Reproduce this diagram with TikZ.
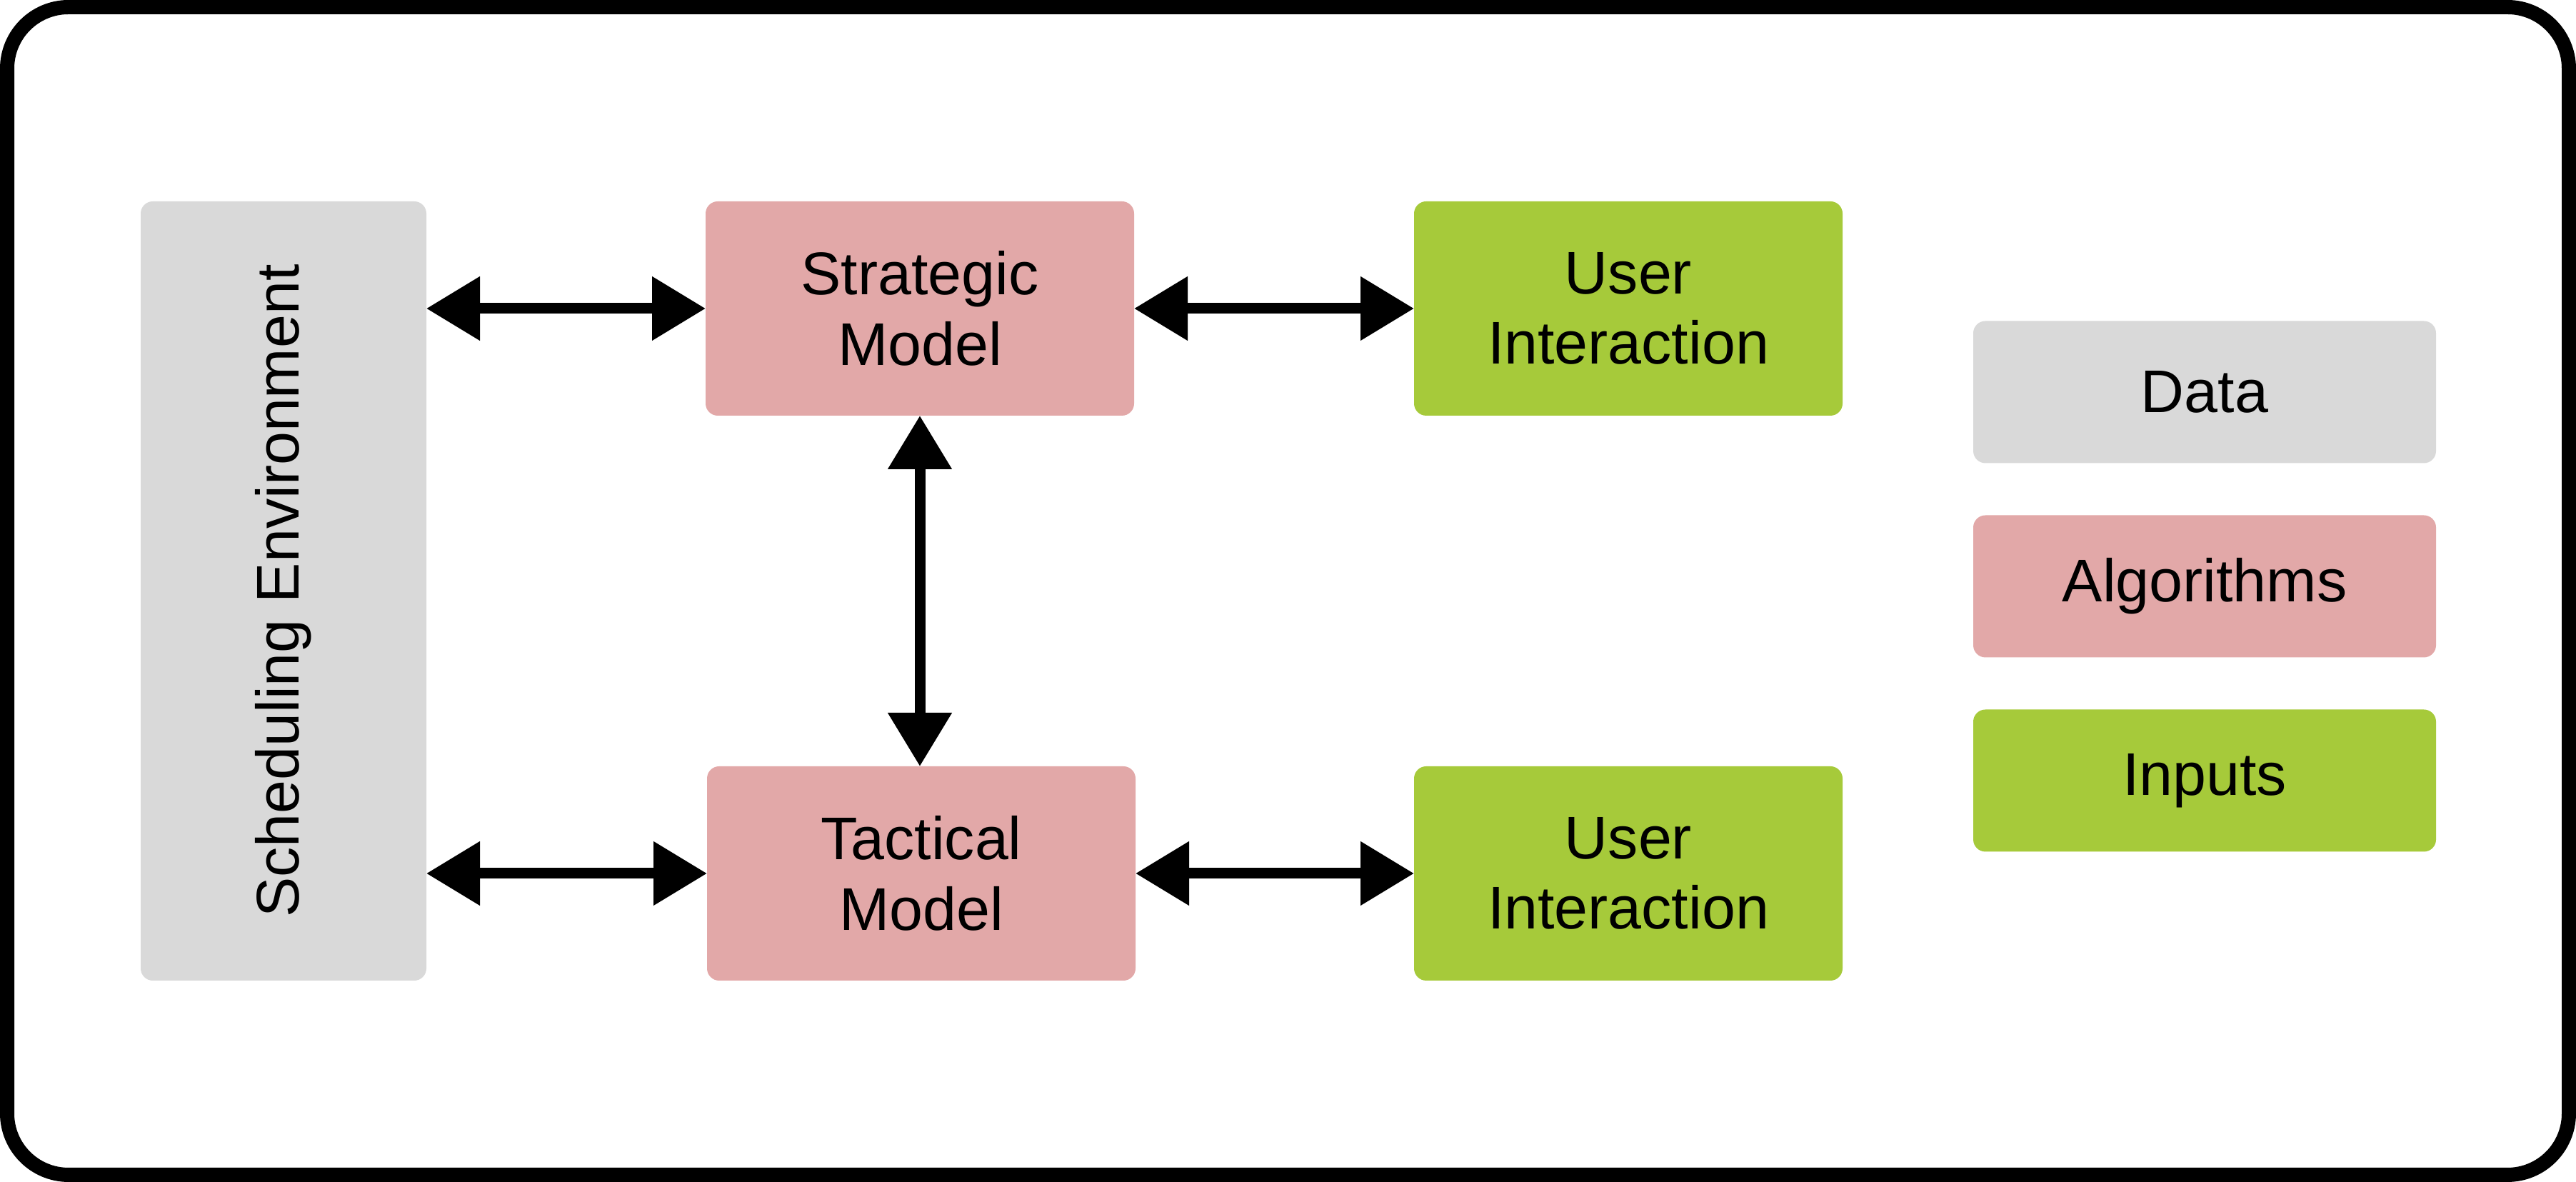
\documentclass[tikz,border=0pt]{standalone}
\usepackage{fontspec}
\setmainfont{Liberation Sans}
\usepackage{tikz}
\usetikzlibrary{positioning, arrows.meta}

\definecolor{datagray}{HTML}{D9D9D9}
\definecolor{algopink}{HTML}{E2A8A8}
\definecolor{inputgreen}{HTML}{A6CA3A}

\tikzset{
  block/.style={rounded corners=0.17cm, inner sep=0, outer sep=0, align=center,
    font=\fontsize{24}{28}\selectfont},
  modelbox/.style={block, fill=algopink, minimum width=6cm, minimum height=3cm},
  userbox/.style={block, fill=inputgreen, minimum width=6cm, minimum height=3cm},
  keybox/.style={block, minimum width=6.48cm, minimum height=1.99cm},
  link/.style={{Triangle[length=0.75cm,width=0.86cm]}-{Triangle[length=0.75cm,width=0.86cm]},
    line width=0.15cm}
}

\begin{document}
\begin{tikzpicture}
\useasboundingbox (0,0) rectangle (36.07,16.55);
\draw[line width=0.2cm, rounded corners=0.86cm] (0.1,0.1) rectangle (35.97,16.45);

% environment and models
\node[block, fill=datagray, minimum width=4cm, minimum height=10.91cm] (env) at (3.97,8.275) {\rotatebox{90}{Scheduling Environment}};
\node[modelbox] (strat) at (12.88,12.23) {Strategic\\Model};
\node[modelbox] (tact) at (12.90,4.32) {Tactical\\Model};
\node[userbox] (user1) at (22.80,12.23) {User\\Interaction};
\node[userbox] (user2) at (22.80,4.32) {User\\Interaction};

% legend
\node[keybox, fill=datagray] (data) at (30.87,11.06) {Data};
\node[keybox, fill=algopink, below=0.73cm of data] (algo) {Algorithms};
\node[keybox, fill=inputgreen, below=0.73cm of algo] (inputs) {Inputs};

\draw[link] (env.east |- strat.west) -- (strat.west);
\draw[link] (env.east |- tact.west) -- (tact.west);
\draw[link] (strat.east) -- (user1.west);
\draw[link] (tact.east) -- (user2.west);
\draw[link] (strat.south) -- (strat.south |- tact.north);
\end{tikzpicture}
\end{document}
